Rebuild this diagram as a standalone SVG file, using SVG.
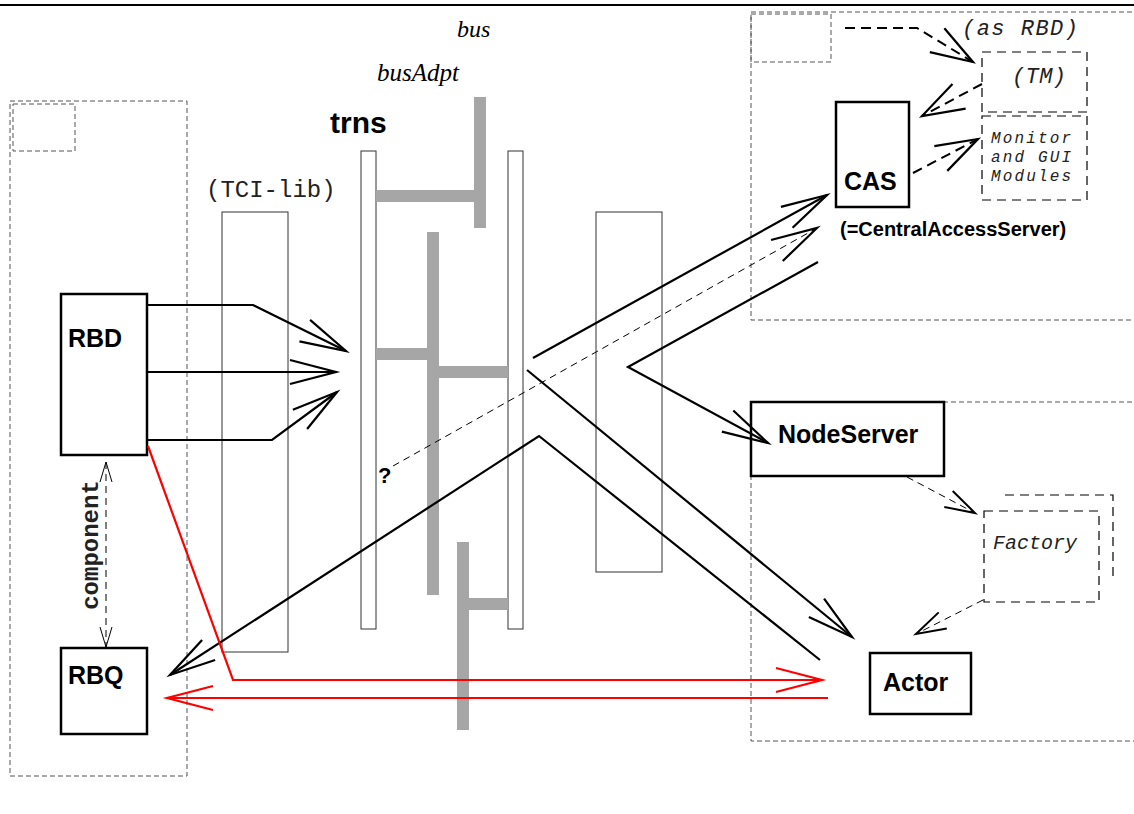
<svg xmlns="http://www.w3.org/2000/svg" width="1134" height="814" viewBox="0 0 1134 814">
<style>
.box{fill:#fff;stroke:#000;stroke-width:2.5}
.thin{fill:none;stroke:#333;stroke-width:1}
.bar{fill:#fff;stroke:#333;stroke-width:1}
.cont{fill:none;stroke:#555;stroke-width:1;stroke-dasharray:5 3}
.dbox{fill:#fff;stroke:#000;stroke-width:1.2;stroke-dasharray:9 6}
.bus{fill:none;stroke:#a6a6a6;stroke-width:12}
.ln{fill:none;stroke:#000;stroke-width:2.2}
.red{fill:none;stroke:#f00;stroke-width:2.2}
.dl{fill:none;stroke:#000;stroke-width:2;stroke-dasharray:10 6}
.dt{fill:none;stroke:#000;stroke-width:1;stroke-dasharray:7 5}
.lbl{font-family:"Liberation Sans",Arial,sans-serif;font-weight:bold;fill:#000}
.mono{font-family:"Liberation Mono","Courier New",monospace;fill:#222}
.it{font-style:italic}
.ser{font-family:"Liberation Serif","Times New Roman",serif;font-style:italic;fill:#000}
</style>
<defs>
<marker id="ah" markerUnits="userSpaceOnUse" markerWidth="60" markerHeight="40" refX="0" refY="0" orient="auto" overflow="visible">
<path d="M-46,-12 L0,0 L-46,12" fill="none" stroke="#000" stroke-width="2.2"/>
</marker>
<marker id="ahr" markerUnits="userSpaceOnUse" markerWidth="60" markerHeight="40" refX="0" refY="0" orient="auto" overflow="visible">
<path d="M-46,-12 L0,0 L-46,12" fill="none" stroke="#f00" stroke-width="2.2"/>
</marker>
<marker id="ahd" markerUnits="userSpaceOnUse" markerWidth="60" markerHeight="40" refX="0" refY="0" orient="auto" overflow="visible">
<path d="M-42,-14 L0,0 L-42,14" fill="none" stroke="#000" stroke-width="2.2"/>
</marker>
<marker id="ahs" markerUnits="userSpaceOnUse" markerWidth="40" markerHeight="30" refX="0" refY="0" orient="auto" overflow="visible">
<path d="M-30,-9 L0,0 L-30,9" fill="none" stroke="#000" stroke-width="2"/>
</marker>
<marker id="ahc" markerUnits="userSpaceOnUse" markerWidth="30" markerHeight="20" refX="0" refY="0" orient="auto-start-reverse" overflow="visible">
<path d="M-20,-6 L0,0 L-20,6" fill="none" stroke="#000" stroke-width="1"/>
</marker>
</defs>
<rect width="1134" height="814" fill="#fff"/>
<line x1="0" y1="5" x2="1134" y2="5" stroke="#000" stroke-width="2"/>

<g id="containers">
<rect class="cont" x="10" y="101" width="177" height="675"/>
<rect class="cont" x="13" y="104" width="62" height="47"/>
<rect class="cont" x="751" y="12" width="400" height="308"/>
<rect class="cont" x="751" y="14" width="80" height="48"/>
<rect class="cont" x="751" y="402" width="400" height="339"/>
</g>

<g id="transport">
<rect class="thin" x="222" y="212" width="66" height="440"/>
<rect class="thin" x="596" y="212" width="66" height="360"/>
<rect class="bar" x="361" y="151" width="15" height="478"/>
<rect class="bar" x="508" y="151" width="15" height="478"/>
<path class="bus" d="M480,97 V228 M376,196 H480 M433,232 V595 M376,354 H433 M433,372 H508 M463,542 V730 M463,604 H508"/>
<text class="ser" x="457" y="37" font-size="24">bus</text>
<text class="ser" x="377" y="81" font-size="25">busAdpt</text>
<text class="lbl" x="330" y="133" font-size="30">trns</text>
<text class="mono" x="206" y="197" font-size="24">(TCI-lib)</text>
</g>

<g id="RBD"><rect class="box" x="61" y="294" width="86" height="161"/><text class="lbl" x="68" y="347" font-size="25">RBD</text></g>
<g id="RBQ"><rect class="box" x="61" y="648" width="86" height="86"/><text class="lbl" x="68" y="684" font-size="25">RBQ</text></g>
<g id="CAS"><rect class="box" x="836" y="102" width="73" height="105"/><text class="lbl" x="844" y="190" font-size="25">CAS</text>
<text class="lbl" x="840" y="236" font-size="20">(=CentralAccessServer)</text></g>
<g id="TM"><rect class="dbox" x="982" y="52" width="105" height="60"/><text class="mono it" x="1012" y="83" font-size="22" textLength="54">(TM)</text></g>
<g id="Monitor"><rect class="dbox" x="982" y="116" width="105" height="84"/>
<text class="mono it" x="991" y="143" font-size="16" textLength="80">Monitor</text>
<text class="mono it" x="991" y="162" font-size="16" textLength="80">and GUI</text>
<text class="mono it" x="991" y="181" font-size="16" textLength="80">Modules</text></g>
<g id="asRBD"><text class="mono it" x="962" y="35" font-size="22" textLength="116">(as RBD)</text></g>
<g id="NodeServer"><rect class="box" x="751" y="402" width="193" height="74"/><text class="lbl" x="778" y="443" font-size="25">NodeServer</text></g>
<g id="Factory"><path d="M1005,495 H1113 V582" fill="none" stroke="#000" stroke-width="1.2" stroke-dasharray="9 6"/>
<rect class="dbox" x="984" y="511" width="115" height="91"/><text class="mono it" x="993" y="549" font-size="20">Factory</text></g>
<g id="Actor"><rect class="box" x="870" y="653" width="101" height="61"/><text class="lbl" x="883" y="691" font-size="25">Actor</text></g>

<g id="connectors">
<polyline class="ln" points="147,305 253,305 346,351" marker-end="url(#ah)"/>
<line class="ln" x1="147" y1="372" x2="336" y2="372" marker-end="url(#ah)"/>
<polyline class="ln" points="148,440 272,440 337,392" marker-end="url(#ah)"/>
<line class="ln" x1="533" y1="358" x2="827" y2="195" marker-end="url(#ah)"/>
<line class="dt" x1="393" y1="466" x2="817" y2="228" marker-end="url(#ah)"/>
<polyline class="ln" points="818,262 628,367 768,443" marker-end="url(#ah)"/>
<line class="ln" x1="527" y1="370" x2="852" y2="637" marker-end="url(#ah)"/>
<polyline class="ln" points="820,660 539,436 170,675" marker-end="url(#ah)"/>
<polyline class="red" points="148,446 233,680 822,680" marker-end="url(#ahr)"/>
<line class="red" x1="828" y1="698" x2="167" y2="698" marker-end="url(#ahr)"/>
<line class="dt" x1="106" y1="462" x2="106" y2="647" stroke-dasharray="4 3" marker-start="url(#ahc)" marker-end="url(#ahc)"/>
<polyline class="dl" points="845,28 917,28 973,62" marker-end="url(#ahd)"/>
<line class="dl" x1="982" y1="84" x2="922" y2="116" marker-end="url(#ahd)"/>
<line class="dl" x1="913" y1="173" x2="978" y2="139" marker-end="url(#ahd)"/>
<line class="dt" x1="907" y1="477" x2="975" y2="513" stroke-dasharray="9 6" stroke-width="1.2" marker-end="url(#ahs)"/>
<line class="dt" x1="983" y1="600" x2="916" y2="634" stroke-dasharray="9 6" stroke-width="1.2" marker-end="url(#ahs)"/>
<text class="lbl" x="378" y="483" font-size="22">?</text>
<text class="mono" font-weight="bold" font-size="24" text-anchor="middle" transform="translate(98,545) rotate(-90)" fill="#000">component</text>
</g>
</svg>
